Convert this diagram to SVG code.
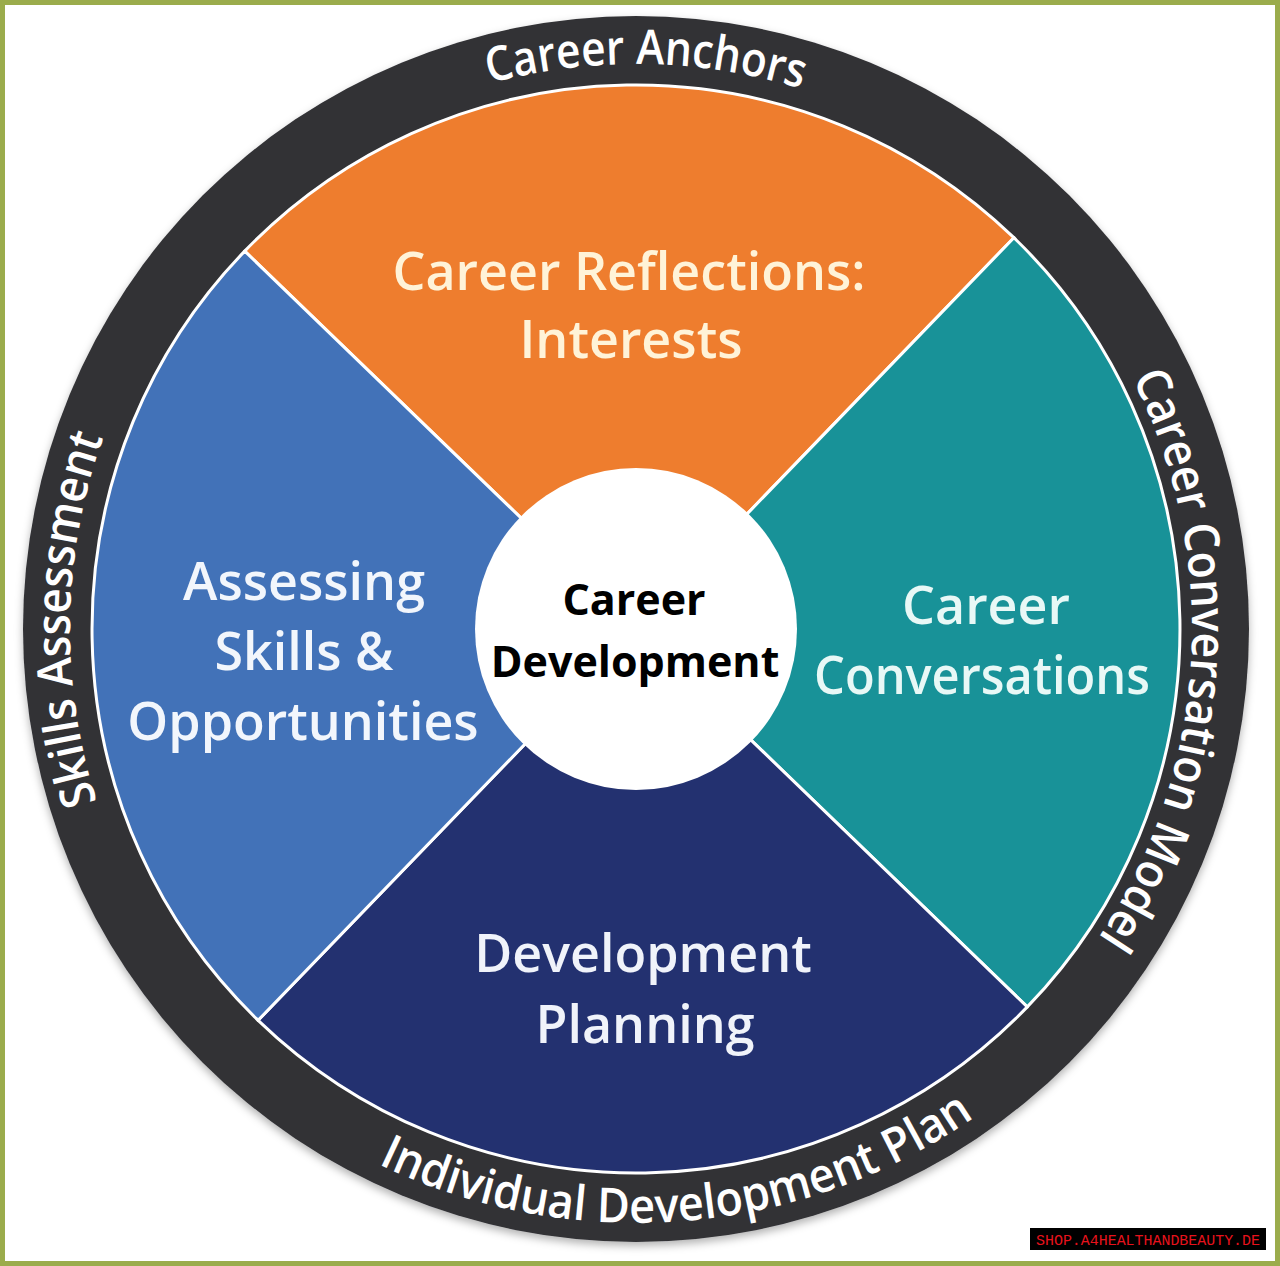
<svg xmlns="http://www.w3.org/2000/svg" width="1280" height="1266" viewBox="0 0 1280 1266">
  <style>
    .sector { stroke: #ffffff; stroke-width: 3; stroke-linejoin: round; }
    .lbl { font-family: "Open Sans", "Liberation Sans", sans-serif; font-weight: 600; font-size: 52px; text-anchor: middle; }
    .ring-lbl { font-family: "Open Sans", "Liberation Sans", sans-serif; font-weight: 600; font-size: 48px; fill: #ffffff; text-anchor: middle; }
    .ring-word { font-family: "Open Sans", "Liberation Sans", sans-serif; font-weight: 600; font-size: 48px; fill: #ffffff; text-anchor: start; }
    .center-lbl { font-family: "Open Sans", "Liberation Sans", sans-serif; font-weight: 700; font-size: 43px; fill: #000000; text-anchor: middle; }
  </style>
  <defs>
    <filter id="shadow" x="-10%" y="-10%" width="120%" height="120%">
      <feDropShadow dx="0" dy="4" stdDeviation="4" flood-color="#000000" flood-opacity="0.3"/>
    </filter>
    <path id="arc-top" d="M 151.7 338.0 A 565 565 0 0 1 1130.1 355.1"/>
    <path id="arc-right" d="M 942.9 165.4 A 556 556 0 0 1 884.1 1126.6"/>
    <path id="arc-left" d="M 344.5 1114.2 A 566 566 0 0 1 361.6 134.0"/>
    <path id="arc-bottom" d="M 95.5 875.3 A 594 594 0 0 0 1208.4 787.7"/>
  </defs>

  <rect x="0" y="0" width="1280" height="1266" fill="#ffffff"/>

  <g id="ring">
    <circle cx="636" cy="629" r="613" fill="#323236" filter="url(#shadow)"/>
    <text class="ring-lbl"><textPath href="#arc-top" startOffset="50%" textLength="316" lengthAdjust="spacingAndGlyphs">Career Anchors</textPath></text>
    <text class="ring-word"><textPath href="#arc-right" startOffset="288" textLength="144" lengthAdjust="spacingAndGlyphs">Career</textPath></text>
    <text class="ring-word"><textPath href="#arc-right" startOffset="444" textLength="285" lengthAdjust="spacingAndGlyphs">Conversation</textPath></text>
    <text class="ring-word"><textPath href="#arc-right" startOffset="741" textLength="135" lengthAdjust="spacingAndGlyphs">Model</textPath></text>
    <text class="ring-lbl"><textPath href="#arc-left" startOffset="50%" textLength="371" lengthAdjust="spacingAndGlyphs">Skills Assessment</textPath></text>
    <text class="ring-lbl"><textPath href="#arc-bottom" startOffset="50%" textLength="627" lengthAdjust="spacingAndGlyphs">Individual Development Plan</textPath></text>
  </g>

  <g id="sector-reflections">
    <path class="sector" fill="#ee7d2e" d="M 636 629 L 244.7 251.1 A 544 544 0 0 1 1013.9 237.7 Z"/>
    <text class="lbl" fill="#fff3d8"><tspan x="629" y="290">Career Reflections:</tspan><tspan x="631" y="358">Interests</tspan></text>
  </g>

  <g id="sector-conversations">
    <path class="sector" fill="#189298" d="M 636 629 L 1013.9 237.7 A 544 544 0 0 1 1027.3 1006.9 Z"/>
    <text class="lbl" fill="#e8f8f6"><tspan x="986" y="624">Career</tspan><tspan x="982" y="694" textLength="336" lengthAdjust="spacingAndGlyphs">Conversations</tspan></text>
  </g>

  <g id="sector-planning">
    <path class="sector" fill="#233170" d="M 636 629 L 1027.3 1006.9 A 544 544 0 0 1 258.1 1020.3 Z"/>
    <text class="lbl" fill="#f0f3fa"><tspan x="643" y="972">Development</tspan><tspan x="645" y="1043">Planning</tspan></text>
  </g>

  <g id="sector-assessing">
    <path class="sector" fill="#4272b8" d="M 636 629 L 258.1 1020.3 A 544 544 0 0 1 244.7 251.1 Z"/>
    <text class="lbl" fill="#f2f6fc"><tspan x="304" y="600">Assessing</tspan><tspan x="304" y="670">Skills &amp;</tspan><tspan x="303" y="740">Opportunities</tspan></text>
  </g>

  <g id="center">
    <circle cx="636" cy="629" r="161" fill="#ffffff"/>
    <text class="center-lbl"><tspan x="634" y="615">Career</tspan><tspan x="635" y="677">Development</tspan></text>
  </g>

  <g id="connectors"></g>

  <g id="watermark">
    <rect x="1030" y="1228" width="236" height="22" fill="#000000"/>
    <text x="1148" y="1245" font-family="Liberation Mono, monospace" font-size="15" fill="#e8121c" text-anchor="middle" textLength="224" lengthAdjust="spacingAndGlyphs">SHOP.A4HEALTHANDBEAUTY.DE</text>
  </g>

  <rect x="2.5" y="2.5" width="1275" height="1261" fill="none" stroke="#9bac4c" stroke-width="5"/>
</svg>
